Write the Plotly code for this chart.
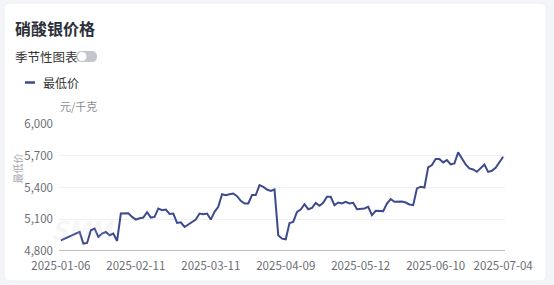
import plotly.graph_objects as go

# ---- data ----
month_days = {
    "01": [6, 7, 8, 9, 10, 13, 14, 15, 16, 17, 20, 21, 22, 23, 24, 27],
    "02": [5, 6, 7, 10, 11, 12, 13, 14, 17, 18, 19, 20, 21, 24, 25, 26, 27, 28],
    "03": [3, 4, 5, 6, 7, 10, 11, 12, 13, 14, 17, 18, 19, 20, 21, 24, 25, 26, 27, 28, 31],
    "04": [1, 2, 3, 7, 8, 9, 10, 11, 14, 15, 16, 17, 18, 21, 22, 23, 24, 25, 28, 29, 30],
    "05": [6, 7, 8, 9, 12, 13, 14, 15, 16, 19, 20, 21, 22, 23, 26, 27, 28, 29, 30],
    "06": [3, 4, 5, 6, 9, 10, 11, 12, 13, 16, 17, 18, 19, 20, 23, 24, 25, 26, 27, 30],
    "07": [1, 2, 3, 4],
}
dates = [f"2025-{m}-{d:02d}" for m, days in month_days.items() for d in days]

low_price = [
    4901, 4917, 4933, 4943, 4958, 4980, 4870, 4876, 4996, 5012,
    4933, 4965, 4980, 4949, 4965, 4895, 5154, 5154, 5156, 5122,
    5097, 5110, 5116, 5167, 5116, 5122, 5202, 5186, 5192, 5150,
    5154, 5065, 5071, 5027, 5050, 5071, 5097, 5154, 5148, 5154,
    5097, 5170, 5217, 5337, 5328, 5337, 5343, 5318, 5274, 5249,
    5249, 5328, 5328, 5422, 5406, 5381, 5368, 5381, 4949, 4917,
    4911, 5065, 5075, 5170, 5192, 5242, 5195, 5208, 5255, 5227,
    5255, 5312, 5312, 5233, 5258, 5249, 5265, 5249, 5255, 5195,
    5202, 5202, 5217, 5139, 5180, 5180, 5177, 5249, 5290, 5265,
    5268, 5268, 5258, 5240, 5233, 5391, 5406, 5400, 5590, 5612,
    5670, 5669, 5637, 5659, 5618, 5627, 5732, 5675, 5618, 5580,
    5570, 5548, 5580, 5618, 5548, 5558, 5586, 5637, 5690,
]

x_tick_labels = ["2025-01-06", "2025-02-11", "2025-03-11", "2025-04-09",
                 "2025-05-12", "2025-06-10", "2025-07-04"]
y_ticks = [4800, 5100, 5400, 5700, 6000]

title_text = "硝酸银价格"
toggle_text = "季节性图表"
series_name = "最低价"
unit_text = "元/千克"

# ---- geometry ----
W, H = 554, 285
ML, MR, MT, MB = 59, 49, 124, 34
PW = W - ML - MR
PH = H - MT - MB


def PX(x):
    return (x - ML) / PW


def PY(y):
    return (H - MB - y) / PH


FONT = "Noto Sans CJK SC, Noto Sans, sans-serif"
LINE_COLOR = "#3d4a8e"

fig = go.Figure()
fig.add_trace(go.Scatter(
    x=dates, y=low_price, mode="lines", name=series_name,
    line=dict(color=LINE_COLOR, width=2), showlegend=False,
    hoverinfo="x+y",
))


def rounded_rect(x0, y0, x1, y1, r):
    rx = r / PW
    ry = r / PH
    a0, a1 = PX(x0), PX(x1)
    b0, b1 = PY(y0), PY(y1)  # b0 top, b1 bottom
    return (f"M{a0 + rx},{b0} L{a1 - rx},{b0} Q{a1},{b0} {a1},{b0 - ry} "
            f"L{a1},{b1 + ry} Q{a1},{b1} {a1 - rx},{b1} "
            f"L{a0 + rx},{b1} Q{a0},{b1} {a0},{b1 + ry} "
            f"L{a0},{b0 - ry} Q{a0},{b0} {a0 + rx},{b0} Z")


shapes = [
    dict(type="path", xref="paper", yref="paper", layer="below",
         path=rounded_rect(4, 3, 546, 281, 6),
         fillcolor="#ffffff", line=dict(color="#eceef3", width=1)),
    # toggle switch pill
    dict(type="path", xref="paper", yref="paper", layer="above",
         path=rounded_rect(76, 51, 97, 62, 5.5),
         fillcolor="#c4c6cc", line=dict(width=0)),
    dict(type="circle", xref="paper", yref="paper", layer="above",
         x0=PX(77.5), x1=PX(86.5), y0=PY(61), y1=PY(52),
         fillcolor="#ffffff", line=dict(width=0)),
    # legend line
    dict(type="line", xref="paper", yref="paper",
         x0=PX(25), x1=PX(35), y0=PY(82.5), y1=PY(82.5),
         line=dict(color=LINE_COLOR, width=2.5)),
]

annotations = [
    dict(text=f"<b>{title_text}</b>", x=PX(13), y=PY(28), xref="paper", yref="paper",
         xanchor="left", yanchor="middle", showarrow=False,
         font=dict(size=16, color="#2b2f3a", family=FONT)),
    dict(text=toggle_text, x=PX(13), y=PY(56.5), xref="paper", yref="paper",
         xanchor="left", yanchor="middle", showarrow=False,
         font=dict(size=12.5, color="#333333", family=FONT)),
    dict(text=series_name, x=PX(41), y=PY(83), xref="paper", yref="paper",
         xanchor="left", yanchor="middle", showarrow=False,
         font=dict(size=12, color="#333333", family=FONT)),
    dict(text=unit_text, x=PX(58), y=PY(106), xref="paper", yref="paper",
         xanchor="left", yanchor="middle", showarrow=False,
         font=dict(size=11, color="#8a8d94", family=FONT)),
    dict(text=series_name, x=PX(16.5), y=PY(169), xref="paper", yref="paper",
         xanchor="center", yanchor="middle", showarrow=False, textangle=-90,
         font=dict(size=10, color="#a6a8ad", family=FONT)),
    dict(text="<b><i>SMM</i></b>", x=PX(82), y=PY(228), xref="paper", yref="paper",
         xanchor="center", yanchor="middle", showarrow=False,
         font=dict(size=26, color="rgba(200,202,208,0.18)", family=FONT)),
]

fig.update_layout(
    width=W, height=H,
    margin=dict(l=ML, r=MR, t=MT, b=MB, pad=0),
    paper_bgcolor="#f4f5f9",
    plot_bgcolor="rgba(0,0,0,0)",
    showlegend=False,
    shapes=shapes,
    annotations=annotations,
    font=dict(family=FONT),
    xaxis=dict(
        type="category",
        categoryorder="array", categoryarray=dates,
        range=[-0.5, len(dates) - 0.5],
        tickmode="array", tickvals=x_tick_labels, ticktext=x_tick_labels,
        showgrid=False, zeroline=False,
        showline=False, ticks="",
        tickfont=dict(size=11.5, color="#6b6e75", family=FONT),
        ticklabelstandoff=6,
    ),
    yaxis=dict(
        range=[4800, 6000],
        tickmode="array", tickvals=y_ticks,
        tickformat=",d",
        showgrid=True, gridcolor="#eef0f5", gridwidth=1,
        zeroline=False, showline=False, ticks="",
        tickfont=dict(size=11.5, color="#6b6e75", family=FONT),
        ticklabelstandoff=5,
    ),
)

# bottom axis line
fig.add_shape(type="line", xref="paper", yref="y", x0=0, x1=1, y0=4800, y1=4800,
              line=dict(color="#a8aab0", width=1.5), layer="above")

fig.write_html("out.html")
